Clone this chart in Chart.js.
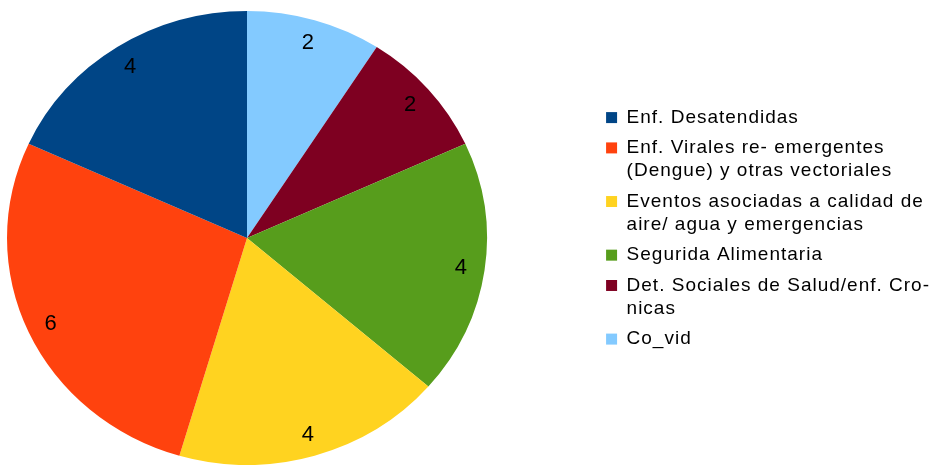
<!DOCTYPE html>
<html>
<head>
<meta charset="utf-8">
<script src="https://cdn.jsdelivr.net/npm/chart.js@4"></script>
<style>
  html, body { margin: 0; padding: 0; background: #fff; }
  #wrap { width: 932px; height: 465px; }
</style>
</head>
<body>
<div id="wrap"><canvas id="chart"></canvas></div>
<script>
// legend order (top to bottom), each entry split into its legend lines
const categories = [
    ["Enf. Desatendidas"],
    ["Enf. Virales re- emergentes", "(Dengue) y otras vectoriales"],
    ["Eventos asociadas a calidad de", "aire/ agua y emergencias"],
    ["Segurida Alimentaria"],
    ["Det. Sociales de Salud/enf. Cro-", "nicas"],
    ["Co_vid"]
];
const values = [4, 6, 4, 4, 2, 2];
const colors = ["#004586", "#ff420e", "#ffd320", "#579d1c", "#7e0021", "#83caff"];

// slices run clockwise from 12 o'clock in the reverse of the legend order
const labelsCw = categories.slice().reverse();
const valuesCw = values.slice().reverse();
const colorsCw = colors.slice().reverse();

// pie placement: the original is a slightly squashed circle
const PIE_CX = 247, PIE_CY = 238, PIE_R = 233;
const SX = 1.03, SY = 0.974;

const layoutFix = {
    id: "layoutFix",
    beforeLayout(c) { c.ctx.letterSpacing = "1px"; },
    afterLayout(c) {
        const a = c.chartArea;
        a.left = PIE_CX - PIE_R; a.right = PIE_CX + PIE_R;
        a.top = PIE_CY - PIE_R; a.bottom = PIE_CY + PIE_R;
        a.width = a.right - a.left; a.height = a.bottom - a.top;
    },
    beforeDraw(c) { c.ctx.letterSpacing = "1px"; },
    beforeDatasetsDraw(c) {
        const ctx = c.ctx;
        ctx.save();
        ctx.translate(PIE_CX, PIE_CY);
        ctx.scale(SX, SY);
        ctx.translate(-PIE_CX, -PIE_CY);
    },
    afterDatasetsDraw(c) {
        const ctx = c.ctx;
        ctx.restore();
        const meta = c.getDatasetMeta(0);
        ctx.save();
        ctx.letterSpacing = "0px";
        ctx.font = "22px 'Liberation Sans', Arial, sans-serif";
        ctx.fillStyle = "#000";
        ctx.textAlign = "center";
        ctx.textBaseline = "middle";
        meta.data.forEach((arc, i) => {
            const p = arc.getProps(["x", "y", "startAngle", "endAngle", "outerRadius"], true);
            const mid = (p.startAngle + p.endAngle) / 2;
            const r = p.outerRadius * 0.9;
            ctx.fillText(String(valuesCw[i]), p.x + Math.cos(mid) * r * SX, p.y + Math.sin(mid) * r * SY + 1);
        });
        ctx.restore();
    }
};

chart = new Chart(document.getElementById("chart"), {
    type: "pie",
    data: {
        labels: labelsCw,
        datasets: [{
            data: valuesCw,
            backgroundColor: colorsCw,
            borderWidth: 0
        }]
    },
    options: {
        responsive: true,
        maintainAspectRatio: false,
        animation: false,
        layout: { padding: { left: 0, top: 0, bottom: 4, right: -8 } },
        plugins: {
            tooltip: { enabled: false },
            legend: {
                position: "right",
                reverse: true,
                labels: {
                    boxWidth: 11,
                    boxHeight: 11,
                    padding: 7,
                    color: "#000",
                    font: { family: "'Liberation Sans', Arial, sans-serif", size: 19, lineHeight: 1.227 }
                }
            }
        }
    },
    plugins: [layoutFix]
});
</script>
</body>
</html>
